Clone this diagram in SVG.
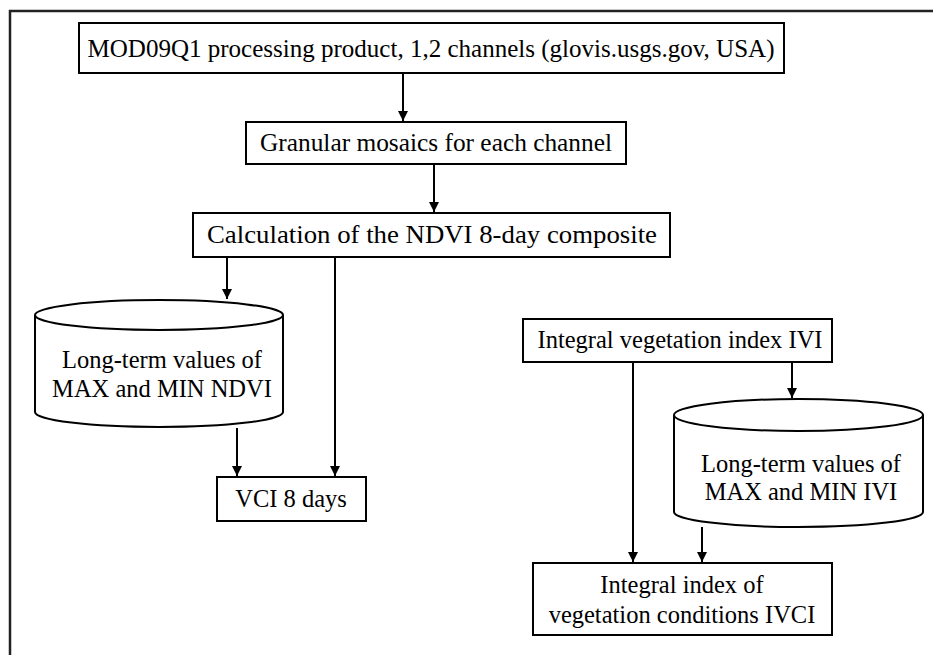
<svg xmlns="http://www.w3.org/2000/svg" width="933" height="655" viewBox="0 0 933 655">
<defs>
<marker id="ah" viewBox="0 0 10 10" refX="10" refY="5" markerWidth="10" markerHeight="10" markerUnits="userSpaceOnUse" orient="auto">
<path d="M0,0 L10,5 L0,10 z" fill="#000"/>
</marker>
<style>
.box{fill:#fff;stroke:#000;stroke-width:2}
.t{font-family:"Liberation Serif","Times New Roman",serif;font-size:24.5px;fill:#000;text-anchor:middle}
.c{fill:none;stroke:#000;stroke-width:2}
.cf{fill:#fff;stroke:#000;stroke-width:2}
</style>
</defs>
<rect width="933" height="655" fill="#fff"/>
<path d="M10,655 V11 H933" fill="none" stroke="#222" stroke-width="2.5"/>
<g id="connectors" class="c">
<line x1="403" y1="74" x2="403" y2="121" marker-end="url(#ah)"/>
<line x1="434" y1="164" x2="434" y2="212" marker-end="url(#ah)"/>
<line x1="227" y1="257" x2="227" y2="299" marker-end="url(#ah)"/>
<line x1="335" y1="257" x2="335" y2="476" marker-end="url(#ah)"/>
<line x1="237" y1="428" x2="237" y2="476" marker-end="url(#ah)"/>
<line x1="792" y1="362" x2="792" y2="398" marker-end="url(#ah)"/>
<line x1="633" y1="362" x2="633" y2="562" marker-end="url(#ah)"/>
<line x1="702" y1="527" x2="702" y2="562" marker-end="url(#ah)"/>
</g>
<g id="n1"><rect class="box" x="79" y="23" width="705" height="50"/><text class="t" x="431" y="57" textLength="687" lengthAdjust="spacingAndGlyphs">MOD09Q1 processing product, 1,2 channels (glovis.usgs.gov, USA)</text></g>
<g id="n2"><rect class="box" x="246" y="122" width="380" height="42"/><text class="t" x="436" y="151" textLength="352" lengthAdjust="spacingAndGlyphs">Granular mosaics for each channel</text></g>
<g id="n3"><rect class="box" x="193" y="213" width="477" height="44"/><text class="t" x="432" y="243" textLength="450" lengthAdjust="spacingAndGlyphs">Calculation of the NDVI 8-day composite</text></g>
<g id="n4"><path class="cf" d="M35,315 A124,15 0 0 1 283,315 V412 A124,15 0 0 1 35,412 Z"/><path class="c" d="M35,315 A124,15 0 0 0 283,315"/><text class="t" x="162" y="368">Long-term values of</text><text class="t" x="162" y="397">MAX and MIN NDVI</text></g>
<g id="n5"><rect class="box" x="217" y="477" width="149" height="44"/><text class="t" x="291" y="507">VCI 8 days</text></g>
<g id="n6"><rect class="box" x="523" y="319" width="309" height="43"/><text class="t" x="680" y="348">Integral vegetation index IVI</text></g>
<g id="n7"><path class="cf" d="M674,415 A124.5,16 0 0 1 923,415 V512 A124.5,15 0 0 1 674,512 Z"/><path class="c" d="M674,415 A124.5,16 0 0 0 923,415"/><text class="t" x="801" y="472">Long-term values of</text><text class="t" x="801" y="500">MAX and MIN IVI</text></g>
<g id="n8"><rect class="box" x="533" y="563" width="299" height="72"/><text class="t" x="682" y="593">Integral index of</text><text class="t" x="682" y="623">vegetation conditions IVCI</text></g>
</svg>
